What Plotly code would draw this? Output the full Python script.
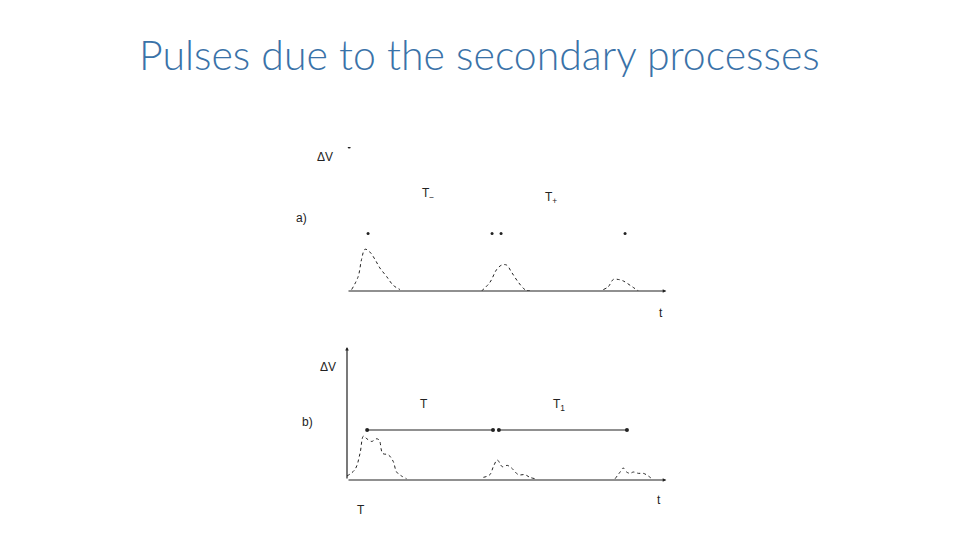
import plotly.graph_objects as go

# panel a) - pulses (time in arbitrary units, dV normalised)
a_p1_t = [0.15, 0.36, 0.47, 0.58, 0.74, 0.90, 1.06, 1.28, 1.49, 1.71]
a_p1_v = [0.01, 0.10, 0.22, 0.29, 0.27, 0.22, 0.16, 0.10, 0.04, 0.01]
a_p2_t = [4.34, 4.61, 4.83, 4.99, 5.15, 5.31, 5.53, 5.74, 5.90]
a_p2_v = [0.00, 0.06, 0.15, 0.18, 0.18, 0.13, 0.06, 0.01, 0.00]
a_p3_t = [8.27, 8.43, 8.59, 8.75, 8.91, 9.13, 9.40]
a_p3_v = [0.01, 0.03, 0.08, 0.08, 0.07, 0.04, 0.00]
a_dots_t = [0.68, 4.68, 4.97, 8.97]
a_dots_v = [0.40, 0.40, 0.40, 0.40]

# panel b) - pulses
b_p1_t = [0.00, 0.26, 0.42, 0.53, 0.64, 0.80, 0.94, 1.04, 1.15, 1.33, 1.49, 1.60, 1.76, 1.92]
b_p1_v = [0.03, 0.08, 0.20, 0.33, 0.31, 0.29, 0.31, 0.30, 0.20, 0.19, 0.14, 0.06, 0.03, 0.01]
b_p2_t = [4.40, 4.61, 4.72, 4.85, 5.01, 5.17, 5.31, 5.53, 5.74, 5.90, 6.06]
b_p2_v = [0.02, 0.04, 0.10, 0.15, 0.10, 0.11, 0.09, 0.04, 0.04, 0.02, 0.01]
b_p3_t = [8.65, 8.81, 8.91, 9.02, 9.13, 9.24, 9.40, 9.56, 9.72, 9.83]
b_p3_v = [0.01, 0.06, 0.09, 0.06, 0.05, 0.06, 0.05, 0.05, 0.03, 0.01]
# the two intervals T and T1
b_int1_t = [0.65, 4.71]
b_int2_t = [4.90, 9.03]
b_int_v = 0.376

t_max = 10.3
ink = "#222222"
OFF = 8  # page body margin of the browser

def px_x(px):
    return (px - OFF) / 960

def px_y(py):
    return 1 - (py - OFF) / 540

fig = go.Figure()

def pulse(t, v, xa, ya):
    fig.add_trace(go.Scatter(x=t, y=v, mode="lines", xaxis=xa, yaxis=ya,
                             line=dict(color=ink, width=1, dash="dot", shape="spline"),
                             showlegend=False, hoverinfo="skip"))

for t, v in [(a_p1_t, a_p1_v), (a_p2_t, a_p2_v), (a_p3_t, a_p3_v)]:
    pulse(t, v, "x", "y")
for t, v in [(b_p1_t, b_p1_v), (b_p2_t, b_p2_v), (b_p3_t, b_p3_v)]:
    pulse(t, v, "x2", "y2")

fig.add_trace(go.Scatter(x=a_dots_t, y=a_dots_v, mode="markers", xaxis="x", yaxis="y",
                         marker=dict(color=ink, size=3), showlegend=False, hoverinfo="skip"))

for seg in (b_int1_t, b_int2_t):
    fig.add_trace(go.Scatter(x=seg, y=[b_int_v] * 2, mode="lines+markers", xaxis="x2", yaxis="y2",
                             line=dict(color=ink, width=1.2), marker=dict(color=ink, size=4),
                             showlegend=False, hoverinfo="skip"))

# baselines (time axes) with arrow heads
for xa, ya in [("x", "y"), ("x2", "y2")]:
    fig.add_annotation(x=t_max, y=0, ax=0, ay=0, xref=xa, yref=ya, axref=xa, ayref=ya,
                       showarrow=True, arrowhead=2, arrowsize=0.6, arrowwidth=1.2,
                       arrowcolor=ink, text="")
# vertical axis of b)
fig.add_annotation(x=0, y=1, ax=0, ay=0, xref="x2", yref="y2", axref="x2", ayref="y2",
                   showarrow=True, arrowhead=2, arrowsize=0.6, arrowwidth=1.2,
                   arrowcolor=ink, text="")
# small tick at the top of a)
fig.add_trace(go.Scatter(x=[0.07], y=[1.0], mode="markers", xaxis="x", yaxis="y",
                         marker=dict(color=ink, size=3),
                         showlegend=False, hoverinfo="skip"))

lab = dict(family="Liberation Sans, Arial", size=12, color=ink)
texts = [
    (325, 157, "ΔV"), (428, 194, "T<sub>−</sub>"), (551, 198, "T<sub>+</sub>"),
    (301, 218, "a)"), (661, 313, "t"),
    (328, 367, "ΔV"), (424, 404, "T"), (559, 405, "T<sub>1</sub>"),
    (307, 422, "b)"), (659, 500, "t"), (361, 510, "T"),
]
for px, py, s in texts:
    fig.add_annotation(x=px_x(px), y=px_y(py), xref="paper", yref="paper",
                       xanchor="center", yanchor="middle",
                       text=s, showarrow=False, font=lab)

fig.add_annotation(x=px_x(479), y=px_y(55), xref="paper", yref="paper",
                   xanchor="center", yanchor="middle",
                   text="Pulses due to the secondary processes", showarrow=False,
                   font=dict(family="Lato, Open Sans", size=41, weight=300, color="#3A72A8"))

x_dom = [px_x(347), px_x(347 + 31 * t_max)]
ax_common = dict(showgrid=False, zeroline=False, showticklabels=False, ticks="")
fig.update_layout(
    width=960, height=540,
    margin=dict(l=0, r=0, t=0, b=0),
    paper_bgcolor="white", plot_bgcolor="white",
    xaxis=dict(domain=x_dom, range=[0, t_max], anchor="y", **ax_common),
    yaxis=dict(domain=[px_y(291), px_y(147)], range=[0, 1], anchor="x", **ax_common),
    xaxis2=dict(domain=x_dom, range=[0, t_max], anchor="y2", **ax_common),
    yaxis2=dict(domain=[px_y(480), px_y(347)], range=[0, 1], anchor="x2", **ax_common),
)

fig.write_html("out.html")
